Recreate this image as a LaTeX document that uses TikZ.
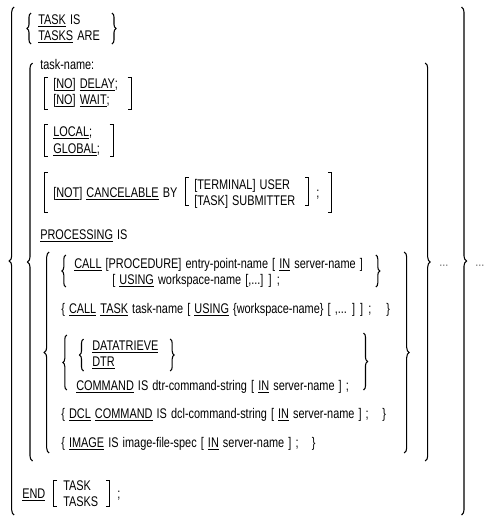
\documentclass[tikz,border=0pt]{standalone}
\usepackage{fontspec}
\setmainfont[FakeStretch=0.78, WordSpace=1.35]{Liberation Sans}
\usetikzlibrary{decorations.pathreplacing}

\newsavebox\kwbox
\newcommand{\kw}[1]{\sbox\kwbox{#1}\rlap{\rule[-1.9pt]{\wd\kwbox}{0.5pt}}\usebox\kwbox}

\begin{document}
\begin{tikzpicture}[x=0.75pt, y=-0.75pt,
  txt/.style={anchor=base west, inner sep=0pt, font=\fontsize{10.5}{12}\selectfont},
  dots/.style={txt, text=black!55},
  curly/.style={decorate, decoration={brace, amplitude=#1}, line width=0.8pt},
  curly/.default=3.75pt,
  sq/.style={line width=0.7pt}]
  \useasboundingbox (0,0) rectangle (493,532);

  % outer group
  \node[txt] (taskis) at (38,24.5) {\kw{TASK} IS};
  \node[txt] (tasksare) at (38,40.5) {\kw{TASKS} ARE};
  \node[txt] (tname) at (40,69) {task-name:};
  \node[txt] (delay) at (53,88.5) {[\kw{NO}] \kw{DELAY};};
  \node[txt] (wait) at (53,104.5) {[\kw{NO}] \kw{WAIT};};
  \node[txt] (local) at (53,136.5) {\kw{LOCAL};};
  \node[txt] (global) at (53,153) {\kw{GLOBAL};};
  \node[txt] (cancel) at (53,197.5) {[\kw{NOT}] \kw{CANCELABLE} BY};
  \node[txt] (user) at (194,189) {[TERMINAL] USER};
  \node[txt] (subm) at (194,205) {[TASK] SUBMITTER};
  \node[txt] (semi1) at (316,197.5) {;};
  \node[txt] (proc) at (40,239) {\kw{PROCESSING} IS};

  % processing options
  \node[txt] (call) at (74,268) {\kw{CALL} [PROCEDURE] entry-point-name [ \kw{IN} server-name ]};
  \node[txt] (using) at (112,284) {[ \kw{USING} workspace-name [,...] ] ;};
  \node[txt] (calltask) at (61,313.5) {\{ \kw{CALL} \kw{TASK} task-name [ \kw{USING} \{workspace-name\} [ ,... ] ] ;};
  \node[txt] (calltaskend) at (386,313.5) {\}};
  \node[txt] (dtrv) at (92,350) {\kw{DATATRIEVE}};
  \node[txt] (dtr) at (92,366) {\kw{DTR}};
  \node[txt] (dtrcmd) at (76,390) {\kw{COMMAND} IS dtr-command-string [ \kw{IN} server-name ] ;};
  \node[txt] (dcl) at (61,418.5) {\{ \kw{DCL} \kw{COMMAND} IS dcl-command-string [ \kw{IN} server-name ] ;};
  \node[txt] (dclend) at (382,418.5) {\}};
  \node[txt] (image) at (61,447) {\{ \kw{IMAGE} IS image-file-spec [ \kw{IN} server-name ] ;};
  \node[txt] (imageend) at (311.5,447) {\}};

  % end clause
  \node[txt] (end) at (22,498.5) {\kw{END}};
  \node[txt] (endtask) at (63,490) {TASK};
  \node[txt] (endtasks) at (63,506) {TASKS};
  \node[txt] (semi2) at (117,498.5) {;};
  \node[dots] (dots1) at (439,266) {...};
  \node[dots] (dots2) at (475,266) {...};

  % braces
  \draw[curly] (14.2,515) -- (14.2,7);
  \draw[curly] (461.5,7) -- (461.5,515);
  \draw[curly] (32.5,461) -- (32.5,63);
  \draw[curly] (425.2,63) -- (425.2,461);
  \draw[curly] (49.2,453) -- (49.2,252);
  \draw[curly] (404.2,252) -- (404.2,453);
  \draw[curly=3pt] (31,44) -- (31,13);
  \draw[curly=3pt] (112,13) -- (112,44);
  \draw[curly=3pt] (65.8,287) -- (65.8,255);
  \draw[curly=3pt] (375.8,255) -- (375.8,287);
  \draw[curly=3pt] (66.8,390) -- (66.8,335);
  \draw[curly=3pt] (363.5,333) -- (363.5,390);
  \draw[curly=3pt] (83.5,371) -- (83.5,339);
  \draw[curly=3pt] (170.2,339) -- (170.2,371);

  % brackets
  \draw[sq] (47.5,77) -- (44,77) -- (44,109) -- (47.5,109);
  \draw[sq] (127.5,77) -- (131,77) -- (131,109) -- (127.5,109);
  \draw[sq] (47.5,124) -- (44,124) -- (44,156) -- (47.5,156);
  \draw[sq] (109.5,124) -- (113,124) -- (113,156) -- (109.5,156);
  \draw[sq] (47.5,172) -- (44,172) -- (44,212) -- (47.5,212);
  \draw[sq] (328,172) -- (331.5,172) -- (331.5,212) -- (328,212);
  \draw[sq] (188.5,177) -- (185,177) -- (185,205) -- (188.5,205);
  \draw[sq] (305,177) -- (308.5,177) -- (308.5,205) -- (305,205);
  \draw[sq] (57,480) -- (53.5,480) -- (53.5,506) -- (57,506);
  \draw[sq] (106,480) -- (109.5,480) -- (109.5,506) -- (106,506);
\end{tikzpicture}
\end{document}
